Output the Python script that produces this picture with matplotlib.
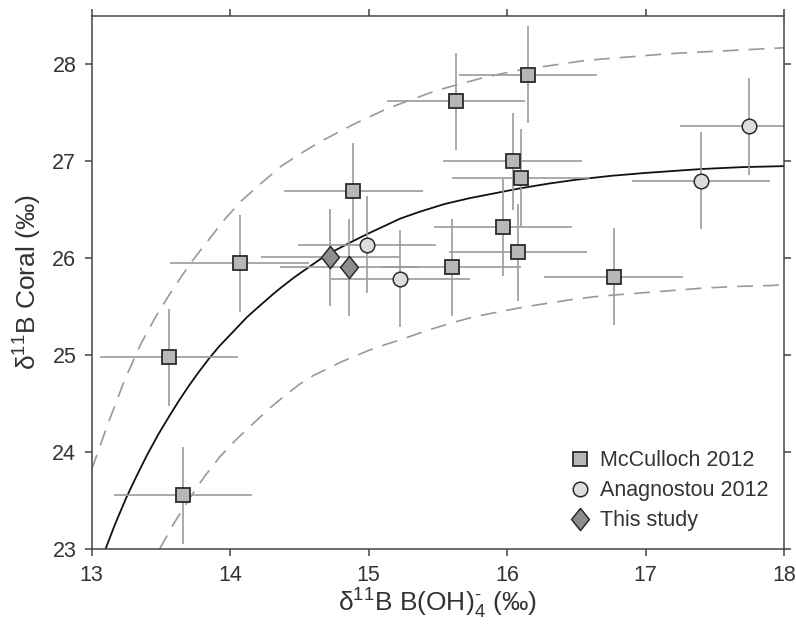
import numpy as np
import matplotlib
matplotlib.use("Agg")
import matplotlib.pyplot as plt
from matplotlib.lines import Line2D

plt.rcParams["font.family"] = ["Liberation Sans", "DejaVu Sans"]
plt.rcParams["mathtext.fontset"] = "custom"
plt.rcParams["mathtext.rm"] = "Liberation Sans"
plt.rcParams["mathtext.it"] = "Liberation Sans"

# McCulloch 2012
mc_x = [16.15, 15.63, 16.04, 16.10, 14.89, 15.97, 16.08, 15.60, 16.77, 14.07, 13.56, 13.66]
mc_y = [27.89, 27.62, 27.00, 26.83, 26.69, 26.32, 26.06, 25.91, 25.81, 25.95, 24.98, 23.56]
# Anagnostou 2012
an_x = [17.75, 17.40, 14.99, 15.23]
an_y = [27.36, 26.80, 26.14, 25.79]
# This study
ts_x = [14.72, 14.86]
ts_y = [26.01, 25.91]
err_x = 0.5
err_y = 0.5

# model curves
fit_x = [13.10, 13.17, 13.25, 13.33, 13.40, 13.48, 13.56, 13.63, 13.70, 13.77, 13.85,
         13.92, 14.00, 14.06, 14.12, 14.19, 14.25, 14.31, 14.37, 14.46, 14.55, 14.62,
         14.68, 14.77, 14.85, 14.92, 14.99, 15.11, 15.23, 15.37, 15.55, 15.73, 15.91,
         16.09, 16.30, 16.50, 16.75, 17.00, 17.40, 17.70, 18.00]
fit_y = [23.00, 23.26, 23.53, 23.77, 23.97, 24.18, 24.37, 24.53, 24.68, 24.82, 24.97,
         25.09, 25.21, 25.30, 25.39, 25.48, 25.555, 25.63, 25.70, 25.80, 25.89, 25.96,
         26.02, 26.09, 26.15, 26.20, 26.25, 26.33, 26.41, 26.48, 26.56, 26.62, 26.67,
         26.72, 26.77, 26.81, 26.85, 26.88, 26.92, 26.94, 26.95]
up_x = [13.00, 13.12, 13.24, 13.36, 13.48, 13.60, 13.72, 13.84, 13.96, 14.08, 14.23,
        14.37, 14.51, 14.65, 14.89, 15.13, 15.49, 15.85, 16.09, 16.57, 17.18, 18.00]
up_y = [23.82, 24.30, 24.75, 25.13, 25.44, 25.71, 25.96, 26.18, 26.40, 26.59, 26.78,
        26.95, 27.08, 27.20, 27.38, 27.54, 27.73, 27.87, 27.94, 28.04, 28.11, 28.17]
lo_x = [13.49, 13.60, 13.71, 13.82, 13.93, 14.05, 14.17, 14.29, 14.41, 14.50, 14.60,
        14.70, 14.80, 14.90, 15.00, 15.12, 15.23, 15.41, 15.59, 15.77, 15.95, 16.13,
        16.31, 16.49, 16.67, 17.03, 17.39, 17.65, 17.92, 18.00]
lo_y = [23.00, 23.28, 23.53, 23.76, 23.96, 24.14, 24.30, 24.46, 24.60, 24.70, 24.79,
        24.86, 24.93, 24.99, 25.05, 25.11, 25.16, 25.25, 25.33, 25.40, 25.45, 25.50,
        25.54, 25.58, 25.61, 25.65, 25.69, 25.71, 25.72, 25.73]

x_ticks = [13, 14, 15, 16, 17, 18]
y_ticks = [23, 24, 25, 26, 27, 28]

grey_err = "#9b9b9b"
edge = "#2a2a2a"
sq_fill = "#b5b7ba"
ci_fill = "#dcdddf"
di_fill = "#8c8d90"
txt = "#333333"
diamond = [(0, 1), (0.8, 0), (0, -1), (-0.8, 0), (0, 1)]

fig = plt.figure(figsize=(7.96, 6.30), dpi=100)
ax = fig.add_axes([0.115, 0.128, 0.87, 0.847])

dash = (0, (9.5, 6))
ax.plot(up_x, up_y, color="#999999", lw=1.2, ls=dash, zorder=1)
ax.plot(lo_x, lo_y, color="#999999", lw=1.2, ls=dash, zorder=1)
ax.plot(fit_x, fit_y, color="#111111", lw=1.3, zorder=1)

for xs, ys in [(mc_x, mc_y), (an_x, an_y), (ts_x, ts_y)]:
    ax.errorbar(xs, ys, xerr=err_x, yerr=err_y, fmt="none", ecolor=grey_err,
                elinewidth=1.2, capsize=0, zorder=2)

ax.plot(mc_x, mc_y, ls="none", marker="s", ms=9.5, mfc=sq_fill, mec=edge, mew=1.3, zorder=3)
ax.plot(an_x, an_y, ls="none", marker="o", ms=10.5, mfc=ci_fill, mec=edge, mew=1.1, zorder=3)
ax.plot(ts_x, ts_y, ls="none", marker=diamond, ms=16, mfc=di_fill, mec=edge, mew=1.1, zorder=3)

ax.set_xlim(13, 18)
ax.set_ylim(23, 28.5)
ax.set_xticks(x_ticks)
ax.set_yticks(y_ticks)
ax.tick_params(direction="out", length=5, width=1.1, colors="#444444", pad=6,
               labelcolor=txt, labelsize=15.5, top=True, right=True)
for s in ax.spines.values():
    s.set_color("#444444")
    s.set_linewidth(1.1)

ax.set_xlabel("δ$^{11}$B B(OH)$_4^{\u2010}$ (‰)", fontsize=19, color=txt, labelpad=1)
ax.set_ylabel("δ$^{11}$B Coral (‰)", fontsize=19, color=txt, labelpad=6)

handles = [
    Line2D([], [], ls="none", marker="s", ms=9.5, mfc=sq_fill, mec=edge, mew=1.3),
    Line2D([], [], ls="none", marker="o", ms=10.5, mfc=ci_fill, mec=edge, mew=1.1),
    Line2D([], [], ls="none", marker=diamond, ms=16, mfc=di_fill, mec=edge, mew=1.1),
]
labels = ["McCulloch 2012", "Anagnostou 2012", "This study"]
ax.legend(handles, labels, loc="upper left", bbox_to_anchor=(0.69, 0.186),
          frameon=False, fontsize=15.5, handlelength=1.0, handletextpad=0.4,
          labelspacing=0.42, borderpad=0, borderaxespad=0, labelcolor=txt)

fig.savefig("out.png", dpi=100)
